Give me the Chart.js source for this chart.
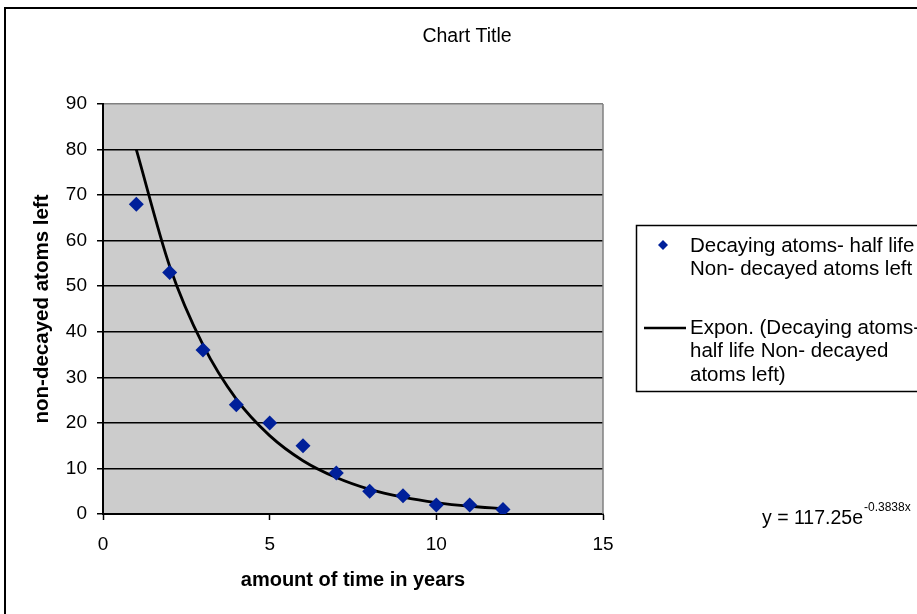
<!DOCTYPE html>
<html>
<head>
<meta charset="utf-8">
<script src="https://cdn.jsdelivr.net/npm/chart.js@4"></script>
<style>
  html, body { margin: 0; padding: 0; background: #fff; }
  #wrap { width: 917px; height: 614px; }
</style>
</head>
<body>
<div id="wrap"><canvas id="c" width="917" height="614"></canvas></div>
<script>
// ---- data ----
const years = [1, 2, 3, 4, 5, 6, 7, 8, 9, 10, 11, 12];
const atomsLeft = [68, 53, 36, 24, 20, 15, 9, 5, 4, 2, 2, 1];
const trendValues = [80, 54.4, 37.1, 25.2, 17.2, 11.7, 8.0, 5.4, 3.7, 2.5, 1.7, 1.2];
const xTicks = [0, 5, 10, 15];
const yTicks = [0, 10, 20, 30, 40, 50, 60, 70, 80, 90];
const chartTitle = 'Chart Title';
const xTitle = 'amount of time in years';
const yTitle = 'non-decayed atoms left';
const seriesName = 'Decaying atoms- half life Non- decayed atoms left';
const trendName = 'Expon. (Decaying atoms- half life Non- decayed atoms left)';
const seriesLegendLines = ['Decaying atoms- half life', 'Non- decayed atoms left'];
const trendLegendLines = ['Expon. (Decaying atoms-', 'half life Non- decayed', 'atoms left)'];
const equationMain = 'y = 117.25e';
const equationExp = '-0.3838x';

const FONT = "'Liberation Sans', Arial, sans-serif";
const MARKER = '#00209a';

const scatterPts = years.map((x, i) => ({ x: x, y: atomsLeft[i] }));
const trendPts = years.map((x, i) => ({ x: x, y: trendValues[i] }));

const decor = {
  id: 'decor',
  beforeDraw(chart) {
    const { ctx, chartArea: a } = chart;
    ctx.save();
    ctx.fillStyle = '#fff';
    ctx.fillRect(0, 0, chart.width, chart.height);
    // outer chart border
    ctx.strokeStyle = '#000';
    ctx.lineWidth = 2;
    ctx.beginPath();
    ctx.moveTo(5, 700);
    ctx.lineTo(5, 8);
    ctx.lineTo(1000, 8);
    ctx.stroke();
    // plot background
    ctx.fillStyle = '#cccccc';
    ctx.fillRect(a.left, a.top, a.right - a.left, a.bottom - a.top);
    ctx.restore();
  },
  afterDraw(chart) {
    const { ctx, chartArea: a } = chart;
    ctx.save();
    // right border of plot (gray)
    ctx.strokeStyle = '#808080';
    ctx.lineWidth = 1.5;
    ctx.beginPath();
    ctx.moveTo(a.right, a.top);
    ctx.lineTo(a.right, a.bottom);
    ctx.stroke();
    // title
    ctx.fillStyle = '#000';
    ctx.font = '19.5px ' + FONT;
    ctx.textAlign = 'center';
    ctx.textBaseline = 'middle';
    ctx.fillText(chartTitle, 467, 37);
    // legend box
    ctx.strokeStyle = '#000';
    ctx.lineWidth = 1.5;
    ctx.strokeRect(636.5, 225.5, 300, 166);
    ctx.font = '20.5px ' + FONT;
    ctx.textAlign = 'left';
    ctx.textBaseline = 'middle';
    // marker
    ctx.fillStyle = MARKER;
    ctx.beginPath();
    ctx.moveTo(663, 240); ctx.lineTo(668, 245); ctx.lineTo(663, 250); ctx.lineTo(658, 245);
    ctx.closePath(); ctx.fill();
    ctx.fillStyle = '#000';
    seriesLegendLines.forEach((t, i) => ctx.fillText(t, 690, 246 + i * 23.5));
    // trend sample
    ctx.lineWidth = 2.5;
    ctx.beginPath(); ctx.moveTo(644, 328); ctx.lineTo(686, 328); ctx.stroke();
    trendLegendLines.forEach((t, i) => ctx.fillText(t, 690, 328 + i * 23.5));
    // equation
    ctx.font = '19.5px ' + FONT;
    ctx.textBaseline = 'middle';
    ctx.fillText(equationMain, 762, 519);
    const w = ctx.measureText(equationMain).width;
    ctx.font = '12px ' + FONT;
    ctx.fillText(equationExp, 762 + w + 1, 508);
    ctx.restore();
  }
};

new Chart(document.getElementById('c'), {
  type: 'scatter',
  data: {
    datasets: [
      {
        label: trendName,
        data: trendPts,
        showLine: true,
        borderColor: '#000',
        borderWidth: 2.8,
        pointRadius: 0,
        cubicInterpolationMode: 'monotone',
        fill: false,
        order: 1
      },
      {
        label: seriesName,
        data: scatterPts,
        pointStyle: 'rectRot',
        pointRadius: 7.5,
        pointBackgroundColor: MARKER,
        pointBorderColor: MARKER,
        pointBorderWidth: 0,
        showLine: false,
        order: 0
      }
    ]
  },
  options: {
    responsive: false,
    animation: false,
    devicePixelRatio: 1,
    layout: { padding: { top: 104, right: 314, left: 0, bottom: 0 } },
    plugins: { legend: { display: false }, title: { display: false }, tooltip: { enabled: false } },
    scales: {
      x: {
        type: 'linear',
        min: 0, max: 15,
        afterFit(s) { s.height = 100; },
        afterBuildTicks(s) { s.ticks = xTicks.map(v => ({ value: v })); },
        ticks: { color: '#000', font: { family: FONT, size: 19 }, padding: 13, maxRotation: 0 },
        grid: { drawOnChartArea: false, drawTicks: true, tickLength: 6, tickColor: '#000', tickWidth: 1.5 },
        border: { display: true, color: '#000', width: 2 },
        title: { display: true, text: xTitle, color: '#000', font: { family: FONT, size: 20, weight: 'bold' }, padding: { top: 0, bottom: 22 } }
      },
      y: {
        type: 'linear',
        min: 0, max: 90,
        afterFit(s) { s.width = 103; },
        afterBuildTicks(s) { s.ticks = yTicks.map(v => ({ value: v })); },
        ticks: { color: '#000', font: { family: FONT, size: 19 }, padding: 10 },
        grid: {
          drawOnChartArea: true, drawTicks: true, tickLength: 6,
          color: ctx => (ctx.tick && ctx.tick.value === 90) ? '#808080' : '#000',
          lineWidth: 1.5,
          tickColor: '#000', tickWidth: 1.5
        },
        border: { display: true, color: '#000', width: 2 },
        title: { display: true, text: yTitle, color: '#000', font: { family: FONT, size: 20.5, weight: 'bold' }, padding: { top: 30, bottom: 0 } }
      }
    }
  },
  plugins: [decor]
});
</script>
</body>
</html>
